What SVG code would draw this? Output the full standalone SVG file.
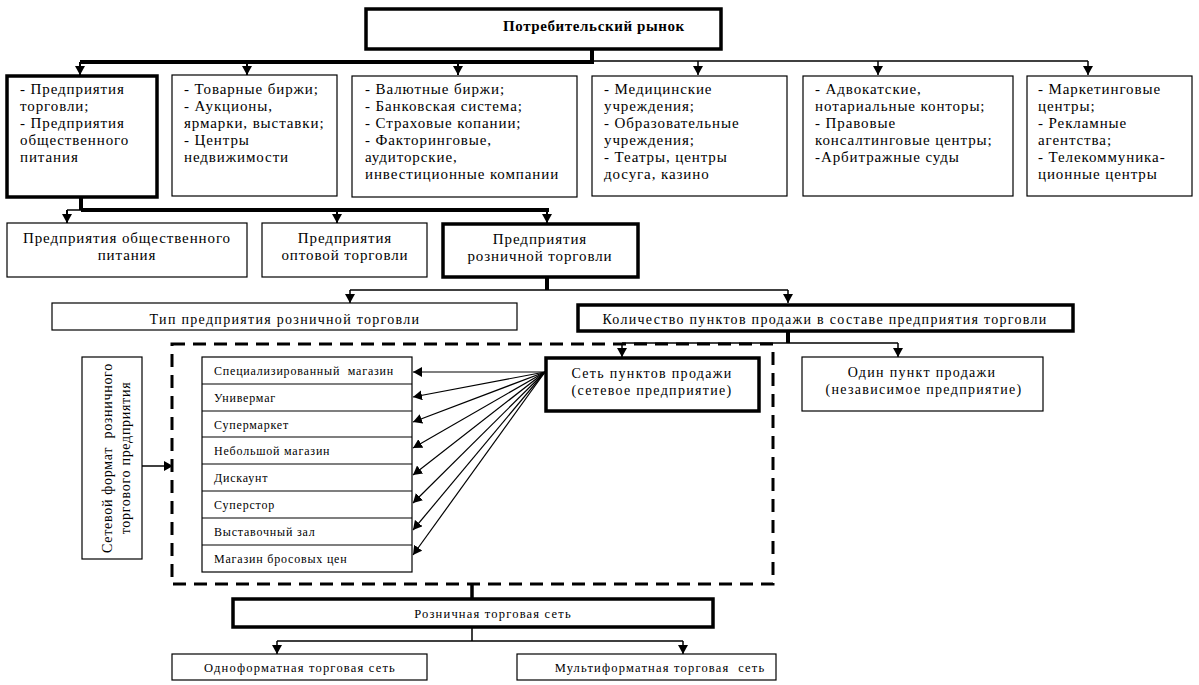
<svg xmlns="http://www.w3.org/2000/svg" width="1199" height="685" viewBox="0 0 1199 685">
<style>
.box{fill:#fff;stroke:#000;stroke-width:1.2}
.thick{fill:#fff;stroke:#000;stroke-width:3.5}
.t{font-family:"Liberation Serif","Times New Roman",serif;fill:#000}
.r1{font-size:15px;letter-spacing:0.9px}
.r2{font-size:15px;letter-spacing:0.9px}
.m{font-size:14px;letter-spacing:1.3px}
.v{font-size:14px;letter-spacing:0.7px}
.s{font-size:12px;letter-spacing:0.8px}
.b{font-size:12.5px;letter-spacing:1.2px}
.c{fill:none;stroke:#000}
</style>
<defs>
<marker id="ah" markerUnits="userSpaceOnUse" markerWidth="10" markerHeight="10" refX="9" refY="5" orient="auto">
<path d="M0,0 L9,5 L0,10 z" fill="#000"/>
</marker>
</defs>
<rect x="0" y="0" width="1199" height="685" fill="#fff"/>

<g id="connectors">
<path class="c" stroke-width="4" d="M592,50 V62 M80,62 H594"/>
<path class="c" stroke-width="1.5" d="M592,61 H1088"/>
<path class="c" stroke-width="2" marker-end="url(#ah)" d="M80,62 V75"/>
<path class="c" stroke-width="2" marker-end="url(#ah)" d="M247,62 V75"/>
<path class="c" stroke-width="2" marker-end="url(#ah)" d="M458,62 V75"/>
<path class="c" stroke-width="1.5" marker-end="url(#ah)" d="M698,61 V75"/>
<path class="c" stroke-width="1.5" marker-end="url(#ah)" d="M878,61 V75"/>
<path class="c" stroke-width="1.5" marker-end="url(#ah)" d="M1088,61 V75"/>

<path class="c" stroke-width="4" d="M81,197 V210 M81,210 H549"/>
<path class="c" stroke-width="1.5" d="M81,210 H67"/>
<path class="c" stroke-width="2" marker-end="url(#ah)" d="M67,210 V223"/>
<path class="c" stroke-width="2" marker-end="url(#ah)" d="M337,210 V223"/>
<path class="c" stroke-width="2" marker-end="url(#ah)" d="M547,210 V223"/>

<path class="c" stroke-width="4" d="M547,278 V290"/>
<path class="c" stroke-width="1.5" d="M350,290 H788"/>
<path class="c" stroke-width="1.5" marker-end="url(#ah)" d="M350,290 V303"/>
<path class="c" stroke-width="1.5" marker-end="url(#ah)" d="M788,290 V303"/>

<path class="c" stroke-width="4" d="M788,331 V343"/>
<path class="c" stroke-width="1.5" d="M622,343 H898"/>
<path class="c" stroke-width="1.5" marker-end="url(#ah)" d="M622,343 V357"/>
<path class="c" stroke-width="1.5" marker-end="url(#ah)" d="M898,343 V357"/>

<g stroke-width="1.2">
<path class="c" marker-end="url(#ah)" d="M545,372 L413,372"/>
<path class="c" marker-end="url(#ah)" d="M545,372 L413,397"/>
<path class="c" marker-end="url(#ah)" d="M545,372 L413,422"/>
<path class="c" marker-end="url(#ah)" d="M545,372 L413,448"/>
<path class="c" marker-end="url(#ah)" d="M545,372 L413,475"/>
<path class="c" marker-end="url(#ah)" d="M545,372 L413,503"/>
<path class="c" marker-end="url(#ah)" d="M545,372 L413,530"/>
<path class="c" marker-end="url(#ah)" d="M545,372 L413,555"/>
</g>

<path class="c" stroke-width="1.5" marker-end="url(#ah)" d="M142,466 H173"/>

<path class="c" stroke-width="3.5" d="M472,584 V598"/>
<path class="c" stroke-width="1.5" d="M472,627 V641 M277,641 H683"/>
<path class="c" stroke-width="1.5" marker-end="url(#ah)" d="M277,641 V654"/>
<path class="c" stroke-width="1.5" marker-end="url(#ah)" d="M683,641 V654"/>
</g>

<g id="market">
<rect class="thick" x="366" y="9" width="355" height="40"/>
<text class="t" x="503" y="31" font-size="15" font-weight="bold" letter-spacing="0.6">Потребительский рынок</text>
</g>

<g id="trade">
<rect class="thick" x="7" y="76" width="150" height="121"/>
<text class="t r1"><tspan x="20" y="94">- Предприятия</tspan><tspan x="20" y="111">торговли;</tspan><tspan x="20" y="128">- Предприятия</tspan><tspan x="20" y="145">общественного</tspan><tspan x="20" y="162">питания</tspan></text>
</g>

<g id="exchanges">
<rect class="box" x="172" y="75" width="165" height="121"/>
<text class="t r1"><tspan x="184" y="94">- Товарные биржи;</tspan><tspan x="184" y="111">- Аукционы,</tspan><tspan x="184" y="128">ярмарки, выставки;</tspan><tspan x="184" y="145">- Центры</tspan><tspan x="184" y="162">недвижимости</tspan></text>
</g>

<g id="finance">
<rect class="box" x="352" y="76" width="225" height="121"/>
<text class="t r1"><tspan x="365" y="94">- Валютные биржи;</tspan><tspan x="365" y="111">- Банковская система;</tspan><tspan x="365" y="128">- Страховые копании;</tspan><tspan x="365" y="145">- Факторинговые,</tspan><tspan x="365" y="162">аудиторские,</tspan><tspan x="365" y="179">инвестиционные компании</tspan></text>
</g>

<g id="social">
<rect class="box" x="592" y="76" width="195" height="120"/>
<text class="t r1"><tspan x="604" y="94">- Медицинские</tspan><tspan x="604" y="111">учреждения;</tspan><tspan x="604" y="128">- Образовательные</tspan><tspan x="604" y="145">учреждения;</tspan><tspan x="604" y="162">- Театры, центры</tspan><tspan x="604" y="179">досуга, казино</tspan></text>
</g>

<g id="legal">
<rect class="box" x="803" y="76" width="210" height="120"/>
<text class="t r1"><tspan x="815" y="94">- Адвокатские,</tspan><tspan x="815" y="111">нотариальные конторы;</tspan><tspan x="815" y="128">- Правовые</tspan><tspan x="815" y="145">консалтинговые центры;</tspan><tspan x="815" y="162">-Арбитражные суды</tspan></text>
</g>

<g id="marketing">
<rect class="box" x="1027" y="76" width="165" height="120"/>
<text class="t r1"><tspan x="1038" y="94">- Маркетинговые</tspan><tspan x="1038" y="111">центры;</tspan><tspan x="1038" y="128">- Рекламные</tspan><tspan x="1038" y="145">агентства;</tspan><tspan x="1038" y="162">- Телекоммуника-</tspan><tspan x="1038" y="179">ционные центры</tspan></text>
</g>

<g id="catering">
<rect class="box" x="7" y="223" width="240" height="54"/>
<text class="t r2" text-anchor="middle"><tspan x="127" y="243">Предприятия общественного</tspan><tspan x="127" y="260">питания</tspan></text>
</g>

<g id="wholesale">
<rect class="box" x="262" y="223" width="165" height="54"/>
<text class="t r2" text-anchor="middle"><tspan x="345" y="243">Предприятия</tspan><tspan x="345" y="260">оптовой торговли</tspan></text>
</g>

<g id="retail">
<rect class="thick" x="443" y="224" width="195" height="53"/>
<text class="t r2" text-anchor="middle"><tspan x="540" y="244">Предприятия</tspan><tspan x="540" y="261">розничной торговли</tspan></text>
</g>

<g id="type">
<rect class="box" x="52" y="303" width="465" height="27"/>
<text class="t m" x="285" y="324" text-anchor="middle" letter-spacing="1.4">Тип предприятия розничной торговли</text>
</g>

<g id="count">
<rect class="thick" x="578" y="305" width="495" height="26"/>
<text class="t m" x="825" y="324" text-anchor="middle">Количество пунктов продажи в составе предприятия торговли</text>
</g>

<g id="dashed">
<rect x="172" y="344" width="601" height="240" fill="none" stroke="#000" stroke-width="3" stroke-dasharray="13 8"/>
</g>

<g id="network">
<rect class="thick" x="546" y="358" width="213" height="53"/>
<text class="t m" text-anchor="middle" letter-spacing="1.1"><tspan x="652" y="378">Сеть пунктов продажи</tspan><tspan x="652" y="395">(сетевое предприятие)</tspan></text>
</g>

<g id="single">
<rect class="box" x="802" y="357" width="241" height="54"/>
<text class="t m" text-anchor="middle" letter-spacing="0.9"><tspan x="922" y="377">Один пункт продажи</tspan><tspan x="924" y="394">(независимое предприятие)</tspan></text>
</g>

<g id="format">
<rect class="box" x="82" y="357" width="60" height="202"/>
<text class="t v" text-anchor="middle" transform="translate(112,458) rotate(-90)"><tspan x="0" y="0">Сетевой формат&#160; розничного</tspan><tspan x="0" y="18">торгового предприятия</tspan></text>
</g>

<g id="formats">
<rect class="box" x="202" y="357" width="210" height="215"/>
<path class="c" stroke-width="1.2" d="M202,384 H412 M202,411 H412 M202,437 H412 M202,464 H412 M202,491 H412 M202,518 H412 M202,545 H412"/>
<text class="t s"><tspan x="214" y="375">Специализированный&#160; магазин</tspan><tspan x="214" y="402">Универмаг</tspan><tspan x="214" y="429">Супермаркет</tspan><tspan x="214" y="455">Небольшой магазин</tspan><tspan x="214" y="482">Дискаунт</tspan><tspan x="214" y="509">Суперстор</tspan><tspan x="214" y="536">Выставочный зал</tspan><tspan x="214" y="563">Магазин бросовых цен</tspan></text>
</g>

<g id="retailnet">
<rect class="thick" x="233" y="599" width="480" height="28"/>
<text class="t b" x="493" y="618" text-anchor="middle">Розничная торговая сеть</text>
</g>

<g id="mono">
<rect class="box" x="172" y="654" width="255" height="26"/>
<text class="t b" x="300" y="672" text-anchor="middle">Одноформатная торговая сеть</text>
</g>

<g id="multi">
<rect class="box" x="517" y="654" width="259" height="26"/>
<text class="t b" x="660" y="672" text-anchor="middle">Мультиформатная торговая&#160; сеть</text>
</g>
</svg>
